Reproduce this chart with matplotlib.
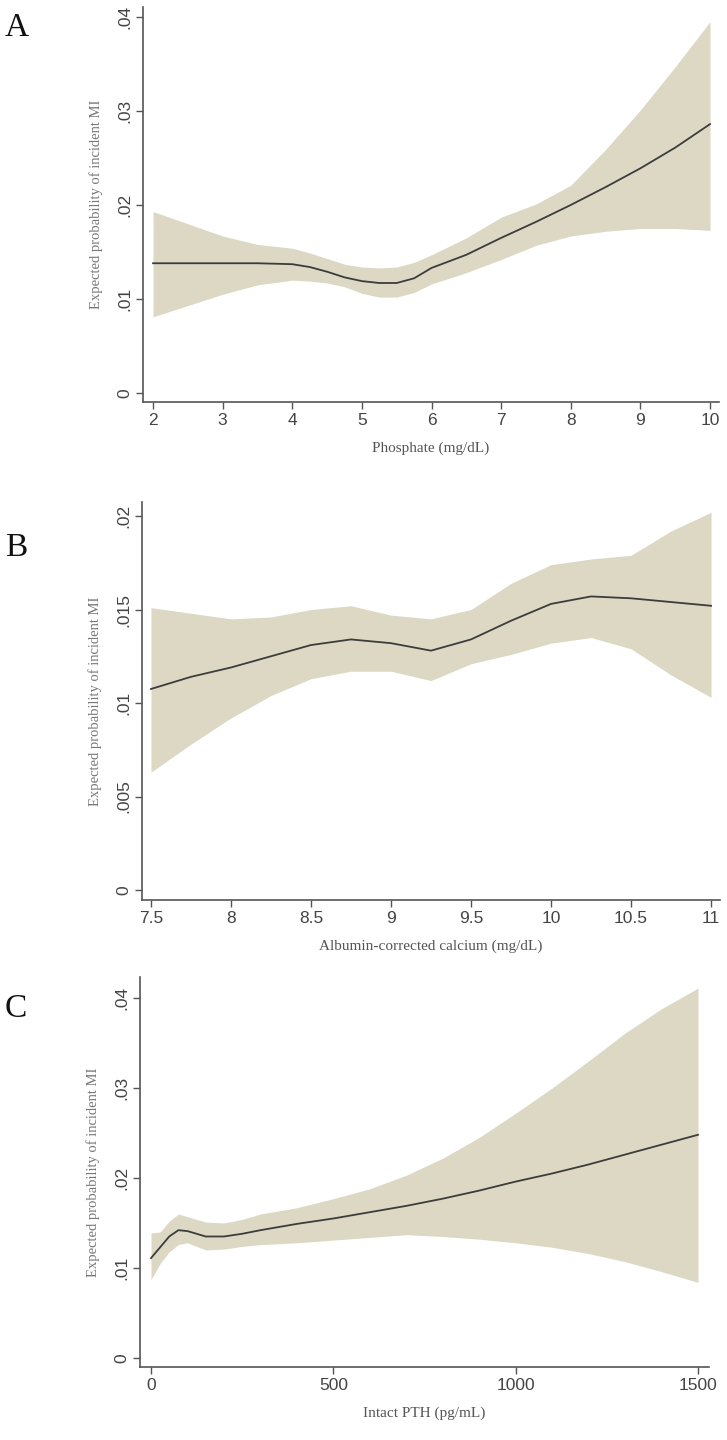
import matplotlib
matplotlib.use('Agg')
import matplotlib.pyplot as plt

# Panel A: phosphate
phos_x = [2, 2.5, 3, 3.5, 4, 4.25, 4.5, 4.75, 5, 5.25, 5.5, 5.75, 6, 6.5, 7, 7.5, 8, 8.5, 9, 9.5, 10]
phos_y = [.0138, .0138, .0138, .0138, .0137, .0134, .0129, .0123, .0119, .0117, .0117, .0122, .0133,
          .0147, .0165, .0182, .0200, .0219, .0239, .0261, .0286]
phos_lo = [.0081, .0093, .0105, .0115, .0120, .0119, .0117, .0113, .0106, .0102, .0102, .0107, .0116,
           .0128, .0142, .0157, .0167, .0172, .0175, .0175, .0173]
phos_hi = [.0193, .0180, .0167, .0158, .0154, .0149, .0143, .0137, .0134, .0133, .0134, .0139, .0147,
           .0165, .0187, .0201, .0221, .0259, .0301, .0347, .0395]

# Panel B: albumin-corrected calcium
ca_x = [7.5, 7.75, 8, 8.25, 8.5, 8.75, 9, 9.25, 9.5, 9.75, 10, 10.25, 10.5, 10.75, 11]
ca_y = [.01075, .0114, .0119, .0125, .0131, .0134, .0132, .0128, .0134, .0144, .0153, .0157, .0156, .0154, .0152]
ca_lo = [.0063, .0078, .0092, .0104, .0113, .0117, .0117, .0112, .0121, .0126, .0132, .0135, .0129, .0115, .0103]
ca_hi = [.0151, .0148, .0145, .0146, .0150, .0152, .0147, .0145, .0150, .0164, .0174, .0177, .0179, .0192, .0202]

# Panel C: intact PTH
pth_x = [0, 25, 50, 75, 100, 150, 200, 250, 300, 400, 500, 600, 700, 800, 900, 1000, 1100, 1200, 1300, 1400, 1500]
pth_y = [.0111, .0123, .0135, .0142, .0141, .0135, .0135, .0138, .0142, .0149, .0155, .0162, .0169, .0177,
         .0186, .0196, .0205, .0215, .0226, .0237, .0248]
pth_lo = [.0087, .0105, .0118, .0126, .0128, .0120, .0121, .0124, .0126, .0128, .0131, .0134, .0137, .0135,
          .0132, .0128, .0123, .0116, .0107, .0096, .0084]
pth_hi = [.0139, .0140, .0152, .0160, .0157, .0151, .0150, .0154, .0160, .0167, .0177, .0188, .0203, .0222,
          .0245, .0272, .0300, .0330, .0361, .0388, .0411]

panels = [
    dict(letter='A', x=phos_x, y=phos_y, lo=phos_lo, hi=phos_hi,
         xticks=[2, 3, 4, 5, 6, 7, 8, 9, 10], xticklabels=['2', '3', '4', '5', '6', '7', '8', '9', '10'],
         yticks=[0, .01, .02, .03, .04], yticklabels=['0', '.01', '.02', '.03', '.04'],
         xlabel='Phosphate (mg/dL)',
         box=(143, 719, 402, 7), xlim=(1.856, 10.129), ylim=(-0.00096, 0.04106), letter_y=28),
    dict(letter='B', x=ca_x, y=ca_y, lo=ca_lo, hi=ca_hi,
         xticks=[7.5, 8, 8.5, 9, 9.5, 10, 10.5, 11],
         xticklabels=['7.5', '8', '8.5', '9', '9.5', '10', '10.5', '11'],
         yticks=[0, .005, .01, .015, .02], yticklabels=['0', '.005', '.01', '.015', '.02'],
         xlabel='Albumin-corrected calcium (mg/dL)',
         box=(142, 720, 900, 502), xlim=(7.444, 11.056), ylim=(-0.000535, 0.02075), letter_y=548),
    dict(letter='C', x=pth_x, y=pth_y, lo=pth_lo, hi=pth_hi,
         xticks=[0, 500, 1000, 1500], xticklabels=['0', '500', '1000', '1500'],
         yticks=[0, .01, .02, .03, .04], yticklabels=['0', '.01', '.02', '.03', '.04'],
         xlabel='Intact PTH (pg/mL)',
         box=(140, 709, 1367, 977), xlim=(-30.2, 1530.2), ylim=(-0.001, 0.04233), letter_y=1009),
]

W, H = 727, 1440
fig = plt.figure(figsize=(W / 100, H / 100), dpi=100)

fill_col = '#dcd8c4'
line_col = '#3c3c3c'
axis_col = '#555555'
tick_font = 'Liberation Sans'
lab_font = 'Liberation Serif'

for p in panels:
    l, r, b, t = p['box']
    ax = fig.add_axes([l / W, 1 - b / H, (r - l) / W, (b - t) / H])
    ax.fill_between(p['x'], p['lo'], p['hi'], color=fill_col, linewidth=0)
    ax.plot(p['x'], p['y'], color=line_col, linewidth=1.3)
    ax.set_xlim(*p['xlim'])
    ax.set_ylim(*p['ylim'])
    for s in ['top', 'right']:
        ax.spines[s].set_visible(False)
    for s in ['left', 'bottom']:
        ax.spines[s].set_color(axis_col)
        ax.spines[s].set_linewidth(1.2)
    ax.set_xticks(p['xticks'])
    ax.set_xticklabels(p['xticklabels'], family=tick_font, fontsize=12.5, color='#444444')
    ax.set_yticks(p['yticks'])
    ax.set_yticklabels(p['yticklabels'], family=tick_font, fontsize=12.5, color='#444444',
                       rotation=90, va='center')
    ax.tick_params(length=5, width=1, color=axis_col, pad=3)
    ax.set_xlabel(p['xlabel'], family=lab_font, fontsize=11, color='#555555', labelpad=10)
    ax.set_ylabel('Expected probability of incident MI', family=lab_font, fontsize=10.5,
                  color='#777777', labelpad=10)
    fig.text(5 / W, 1 - p['letter_y'] / H, p['letter'], family=lab_font, fontsize=24,
             va='center', ha='left', color='#111111')

fig.savefig('out.png', dpi=100)
